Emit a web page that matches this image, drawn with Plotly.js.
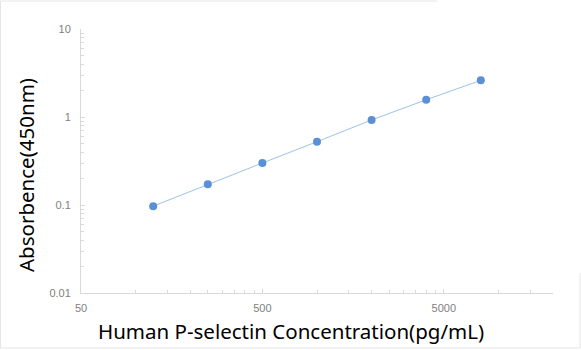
<!DOCTYPE html>
<html><head><meta charset="utf-8">
<script src="https://cdn.plot.ly/plotly-3.0.1.min.js"></script>
<style>html,body{margin:0;padding:0;background:#fff}#chart{width:581px;height:350px}</style>
</head><body><div id="chart"></div>
<script>
var concentration = [125, 250, 500, 1000, 2000, 4000, 8000];
var absorbance = [0.097, 0.172, 0.30, 0.524, 0.925, 1.57, 2.61];
var xTickVals = [50, 500, 5000];
var xTickText = ["50", "500", "5000"];
var yTickVals = [0.01, 0.1, 1, 10];
var yTickText = ["0.01", "0.1", "1", "10"];
var xMinor = [100,150,200,250,300,350,400,450,1000,1500,2000,2500,3000,3500,4000,4500,10000,15000,20000];
var yMinor = [0.02,0.03,0.04,0.05,0.06,0.07,0.08,0.09,0.2,0.3,0.4,0.5,0.6,0.7,0.8,0.9,2,3,4,5,6,7,8,9];

var trace = {
  x: concentration, y: absorbance, type: 'scatter', mode: 'lines+markers',
  line: {color: '#9dc3e6', width: 1},
  marker: {color: '#5b8fd6', size: 8},
  hoverinfo: 'none'
};
var axisCommon = {
  type: 'log', showgrid: false, zeroline: false,
  showline: true, linecolor: '#d9d9d9', linewidth: 1,
  ticks: 'inside', ticklen: 4, tickcolor: '#d9d9d9',
  tickfont: {family: 'Liberation Sans, Arial, sans-serif', size: 11, color: '#808080'},
  tickmode: 'array'
};
var titleFont = {family: 'Noto Sans, sans-serif', size: 20.5, color: '#000'};
var border = '#e6e6e6';
var layout = {
  width: 581, height: 350,
  margin: {l: 81, r: 28, t: 29, b: 57},
  paper_bgcolor: '#fff', plot_bgcolor: '#fff',
  showlegend: false,
  xaxis: Object.assign({}, axisCommon, {
    range: [Math.log10(50), Math.log10(20000)],
    tickvals: xTickVals, ticktext: xTickText, ticklabelstandoff: 5,
    minor: {tickmode: 'array', tickvals: xMinor, ticks: 'inside', ticklen: 3, tickcolor: '#d9d9d9', showgrid: false}
  }),
  yaxis: Object.assign({}, axisCommon, {
    range: [-2, 1],
    tickvals: yTickVals, ticktext: yTickText, ticklabelstandoff: 7,
    minor: {tickmode: 'array', tickvals: yMinor, ticks: 'inside', ticklen: 3, tickcolor: '#d9d9d9', showgrid: false}
  }),
  annotations: [
    {text: 'Human P-selectin Concentration(pg/mL)', xref: 'paper', yref: 'paper', x: 0.445, y: -0.144,
     xanchor: 'center', yanchor: 'middle', showarrow: false, font: titleFont},
    {text: 'Absorbence(450nm)', xref: 'paper', yref: 'paper', x: -0.1165, y: 0.447, textangle: -90,
     xanchor: 'center', yanchor: 'middle', showarrow: false, font: titleFont}
  ],
  shapes: [
    {type: 'line', xref: 'paper', yref: 'paper', x0: -0.1716, x1: 1.0572, y0: -0.2083, y1: -0.2083, line: {color: border, width: 1}},
    {type: 'line', xref: 'paper', yref: 'paper', x0: -0.1705, x1: -0.1705, y0: -0.2083, y1: 1.106, line: {color: border, width: 1}},
    {type: 'line', xref: 'paper', yref: 'paper', x0: -0.1716, x1: 0.754, y0: 1.106, y1: 1.106, line: {color: border, width: 1}},
    {type: 'line', xref: 'paper', yref: 'paper', x0: 1.0572, x1: 1.0572, y0: -0.2083, y1: 0.0758, line: {color: border, width: 1}}
  ]
};
Plotly.newPlot('chart', [trace], layout, {staticPlot: true, displayModeBar: false});
</script></body></html>
